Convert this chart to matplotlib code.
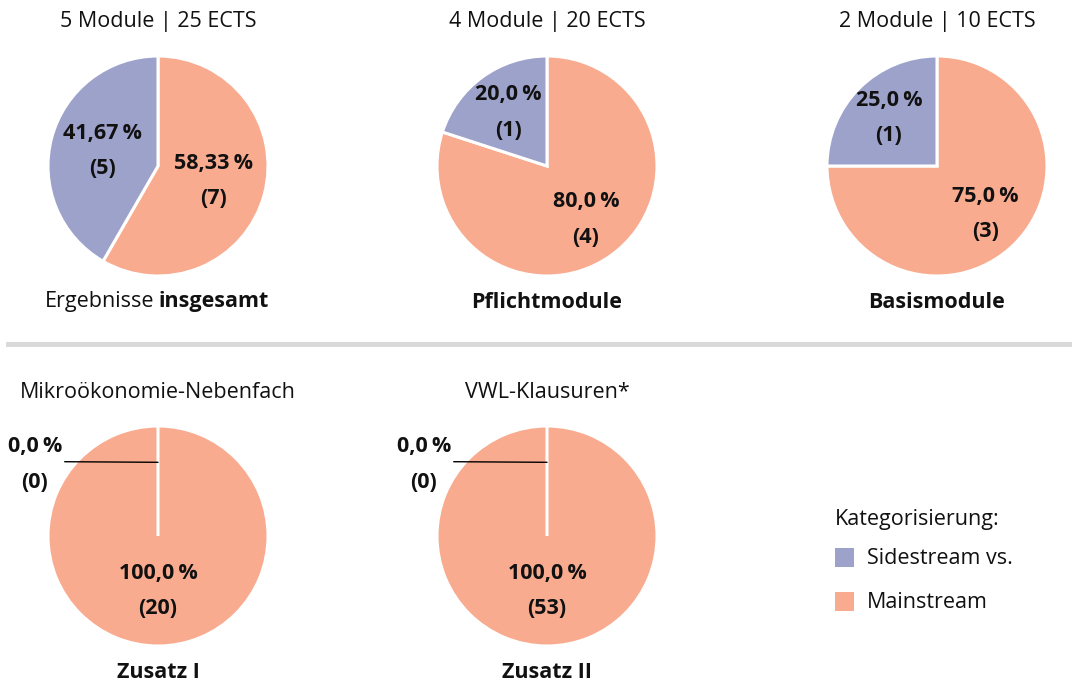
import numpy as np
import matplotlib
matplotlib.use("Agg")
import matplotlib.pyplot as plt
from matplotlib.lines import Line2D
from matplotlib.patches import Rectangle

plt.rcParams['font.family'] = ['Open Sans', 'DejaVu Sans']

# data
categories = ['Mainstream', 'Sidestream vs.']
titles = ['5 Module | 25 ECTS', '4 Module | 20 ECTS', '2 Module | 10 ECTS',
          'Mikroökonomie-Nebenfach', 'VWL-Klausuren*']
mainstream = [7, 4, 3, 20, 53]
sidestream = [5, 1, 1, 0, 0]
decimals = [2, 1, 1, 1, 1]
subtitles = [('Ergebnisse', 'insgesamt'), ('', 'Pflichtmodule'), ('', 'Basismodule'),
             ('', 'Zusatz I'), ('', 'Zusatz II')]

col_main = '#F8AB8F'
col_side = '#9DA2CA'
W, H = 1072, 688
FS = 15.5

fig = plt.figure(figsize=(W / 100, H / 100), dpi=100)

# pie centres in pixels
centres = [(158, 166), (547, 166), (937, 166), (158, 536), (547, 536)]
R = 110
label_dist = [0.52, 0.6, 0.62, 0.5, 0.5]


def fmt(v, d):
    return f'{v:.{d}f}'.replace('.', ',') + '\u2009%'


for i, (cx, cy) in enumerate(centres):
    ax = fig.add_axes([(cx - R) / W, 1 - (cy + R) / H, 2 * R / W, 2 * R / H])
    vals = [mainstream[i], sidestream[i]]
    total = sum(vals)
    wedges, _ = ax.pie(vals, colors=[col_main, col_side], startangle=90,
                       counterclock=False,
                       wedgeprops=dict(edgecolor='white', linewidth=2.2))
    ax.set_xlim(-1, 1)
    ax.set_ylim(-1, 1)
    ax.set_aspect('equal')
    ax.axis('off')
    for w, v in zip(wedges, vals):
        pct = 100.0 * v / total
        txt = fmt(pct, decimals[i]) + '\n(' + str(v) + ')'
        if v == 0:
            ax.annotate(txt, xy=(0, 0.67), xytext=(-1.12, 0.65), ha='center', va='center',
                        fontsize=FS, fontweight='bold', color='#111111', linespacing=1.9,
                        annotation_clip=False,
                        arrowprops=dict(arrowstyle='-', color='black', lw=1,
                                        relpos=(0.97, 0.55), shrinkA=0, shrinkB=0))
            continue
        ang = np.deg2rad((w.theta1 + w.theta2) / 2)
        d = label_dist[i]
        ax.text(d * np.cos(ang), d * np.sin(ang), txt, ha='center', va='center',
                fontsize=FS, fontweight='bold', color='#111111', linespacing=1.9)

    # title above
    fig.text(cx / W, 1 - 22 / H if cy < 300 else 1 - 392 / H, titles[i],
             ha='center', va='center', fontsize=FS, color='#111111')
    # subtitle below
    ys = 1 - (302 / H if cy < 300 else 673 / H)
    a, b = subtitles[i]
    if a:
        fig.text((cx - 4) / W, ys, a, ha='right', va='center', fontsize=FS, color='#111111')
        fig.text((cx + 1) / W, ys, b, ha='left', va='center', fontsize=FS,
                 fontweight='bold', color='#111111')
    else:
        fig.text(cx / W, ys, b, ha='center', va='center', fontsize=FS,
                 fontweight='bold', color='#111111')

# separator
fig.add_artist(Line2D([8 / W, 1], [1 - 344 / H, 1 - 344 / H], color='#D9D9D9', lw=3.5))

# legend
fig.text(835 / W, 1 - 520 / H, 'Kategorisierung:', ha='left', va='center', fontsize=FS, color='#111111')
for k, (lab, col) in enumerate([(categories[1], col_side), (categories[0], col_main)]):
    y = 558 + k * 44
    fig.add_artist(Rectangle((835 / W, 1 - (y + 9) / H), 19 / W, 19 / H,
                             transform=fig.transFigure, facecolor=col, edgecolor='none'))
    fig.text(867 / W, 1 - y / H, lab, ha='left', va='center', fontsize=FS, color='#111111')

fig.savefig('out.png', dpi=100)
